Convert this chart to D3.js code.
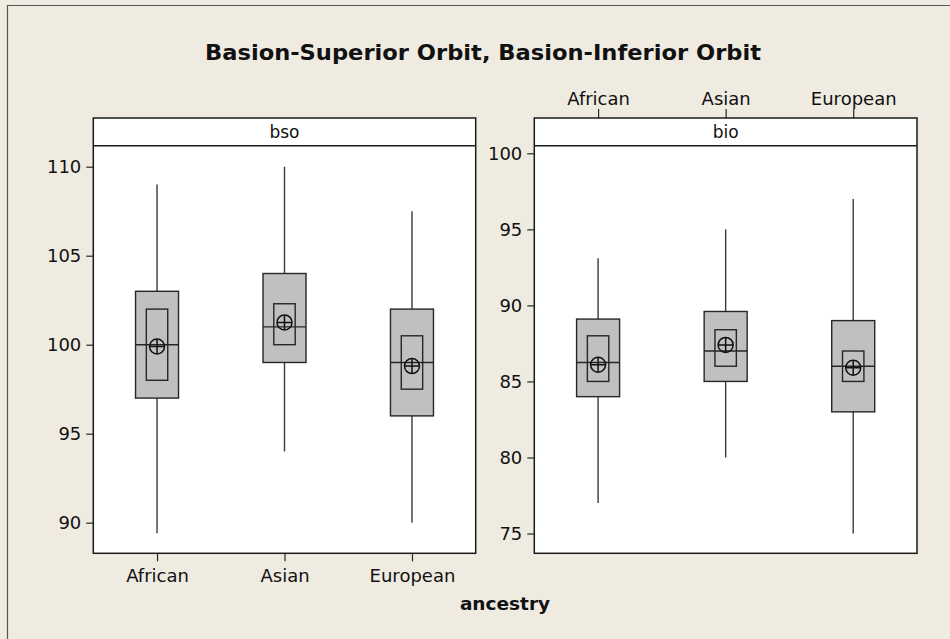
<!DOCTYPE html>
<html lang="en">
<head>
    <meta charset="UTF-8">
    <title>Basion-Superior Orbit, Basion-Inferior Orbit</title>
    <script src="https://d3js.org/d3.v7.min.js"></script>
    <style>
        body { margin: 0; padding: 0; background: #efebe1; }
        svg { display: block; }
        text { font-family: "DejaVu Sans", sans-serif; fill: #111; }
    </style>
</head>
<body>
<script>
    // categories
    var categories = ["African", "Asian", "European"];

    // bso panel
    var bsoLow    = [89.4, 94, 90];
    var bsoQ1     = [97, 99, 96];
    var bsoMedian = [100, 101, 99];
    var bsoQ3     = [103, 104, 102];
    var bsoHigh   = [109, 110, 107.5];
    var bsoCiLow  = [98, 100, 97.5];
    var bsoCiHigh = [102, 102.3, 100.5];
    var bsoMean   = [99.9, 101.25, 98.8];
    var bsoTicks  = [90, 95, 100, 105, 110];

    // bio panel
    var bioLow    = [77, 80, 75];
    var bioQ1     = [84, 85, 83];
    var bioMedian = [86.25, 87, 86];
    var bioQ3     = [89.1, 89.6, 89];
    var bioHigh   = [93.1, 95, 97];
    var bioCiLow  = [85, 86, 85];
    var bioCiHigh = [88, 88.4, 87];
    var bioMean   = [86.1, 87.4, 85.9];
    var bioTicks  = [75, 80, 85, 90, 95, 100];

    var width = 950, height = 639;

    var svg = d3.select("body").append("svg")
        .attr("width", width)
        .attr("height", height);

    // outer frame
    svg.append("rect").attr("width", width).attr("height", height).attr("fill", "#efebe1");
    svg.append("path")
        .attr("d", "M7.5," + height + "V5.5H" + width)
        .attr("fill", "none").attr("stroke", "#555").attr("stroke-width", 1.2);

    // title
    svg.append("text")
        .attr("x", 483).attr("y", 60)
        .attr("text-anchor", "middle")
        .attr("font-size", 22).attr("font-weight", "bold")
        .attr("textLength", 556).attr("lengthAdjust", "spacingAndGlyphs")
        .text("Basion-Superior Orbit, Basion-Inferior Orbit");

    var plotTop = 145.7, plotBottom = 553.3, headTop = 118;

    var panels = [
        { name: "bso", x0: 93.3, x1: 475.7, domain: [88.28, 111.18], ticks: bsoTicks,
          low: bsoLow, q1: bsoQ1, med: bsoMedian, q3: bsoQ3, high: bsoHigh,
          ciLow: bsoCiLow, ciHigh: bsoCiHigh, mean: bsoMean, catAxis: "bottom" },
        { name: "bio", x0: 534.3, x1: 917, domain: [73.7, 100.5], ticks: bioTicks,
          low: bioLow, q1: bioQ1, med: bioMedian, q3: bioQ3, high: bioHigh,
          ciLow: bioCiLow, ciHigh: bioCiHigh, mean: bioMean, catAxis: "top" }
    ];

    var line = "#262626";

    panels.forEach(function(p) {
        var x = d3.scalePoint().domain(categories).range([p.x0, p.x1]).padding(0.5);
        var y = d3.scaleLinear().domain(p.domain).range([plotBottom, plotTop]);
        var g = svg.append("g");

        // plot area + strip header
        g.append("rect")
            .attr("x", p.x0).attr("y", plotTop)
            .attr("width", p.x1 - p.x0).attr("height", plotBottom - plotTop)
            .attr("fill", "#fff");
        g.append("rect")
            .attr("x", p.x0).attr("y", headTop)
            .attr("width", p.x1 - p.x0).attr("height", plotTop - headTop)
            .attr("fill", "#fff");
        g.append("text")
            .attr("x", (p.x0 + p.x1) / 2).attr("y", 138)
            .attr("text-anchor", "middle").attr("font-size", 17)
            .text(p.name);

        // y axis
        var yAxis = g.append("g")
            .attr("transform", "translate(" + p.x0 + ",0)")
            .call(d3.axisLeft(y).tickValues(p.ticks).tickSize(7).tickPadding(5));
        yAxis.select(".domain").remove();
        yAxis.selectAll("line").attr("stroke", line).attr("stroke-width", 1.2);
        yAxis.selectAll("text").attr("font-size", 18).attr("font-family", "DejaVu Sans").attr("fill", "#111");

        // category axis
        var xAxis;
        if (p.catAxis === "bottom") {
            xAxis = g.append("g")
                .attr("transform", "translate(0," + plotBottom + ")")
                .call(d3.axisBottom(x).tickSize(8).tickPadding(8));
        } else {
            xAxis = g.append("g")
                .attr("transform", "translate(0," + headTop + ")")
                .call(d3.axisTop(x).tickSize(9).tickPadding(4));
        }
        xAxis.select(".domain").remove();
        xAxis.selectAll("line").attr("stroke", line).attr("stroke-width", 1.2);
        xAxis.selectAll("text").attr("font-size", 18).attr("font-family", "DejaVu Sans").attr("fill", "#111");

        var boxW = 43, ciW = 21.4;

        categories.forEach(function(c, i) {
            var cx = x(c);
            // whiskers
            g.append("line").attr("x1", cx).attr("x2", cx)
                .attr("y1", y(p.high[i])).attr("y2", y(p.q3[i]))
                .attr("stroke", "#3a3a3a").attr("stroke-width", 1.4);
            g.append("line").attr("x1", cx).attr("x2", cx)
                .attr("y1", y(p.q1[i])).attr("y2", y(p.low[i]))
                .attr("stroke", "#3a3a3a").attr("stroke-width", 1.4);
            // IQR box
            g.append("rect")
                .attr("x", cx - boxW / 2).attr("y", y(p.q3[i]))
                .attr("width", boxW).attr("height", y(p.q1[i]) - y(p.q3[i]))
                .attr("fill", "#c0c0c0").attr("stroke", line).attr("stroke-width", 1.4);
            // median CI box
            g.append("rect")
                .attr("x", cx - ciW / 2).attr("y", y(p.ciHigh[i]))
                .attr("width", ciW).attr("height", y(p.ciLow[i]) - y(p.ciHigh[i]))
                .attr("fill", "none").attr("stroke", line).attr("stroke-width", 1.4);
            // median
            g.append("line")
                .attr("x1", cx - boxW / 2).attr("x2", cx + boxW / 2)
                .attr("y1", y(p.med[i])).attr("y2", y(p.med[i]))
                .attr("stroke", line).attr("stroke-width", 1.4);
            // mean symbol
            var my = y(p.mean[i]), r = 7.5;
            g.append("circle").attr("cx", cx).attr("cy", my).attr("r", r)
                .attr("fill", "none").attr("stroke", "#111").attr("stroke-width", 1.5);
            g.append("path")
                .attr("d", "M" + (cx - r) + "," + my + "H" + (cx + r) + "M" + cx + "," + (my - r) + "V" + (my + r))
                .attr("stroke", "#111").attr("stroke-width", 1.5);
        });

        // frames on top
        g.append("rect")
            .attr("x", p.x0).attr("y", headTop)
            .attr("width", p.x1 - p.x0).attr("height", plotBottom - headTop)
            .attr("fill", "none").attr("stroke", "#1a1a1a").attr("stroke-width", 1.5);
        g.append("line")
            .attr("x1", p.x0).attr("x2", p.x1).attr("y1", plotTop).attr("y2", plotTop)
            .attr("stroke", "#1a1a1a").attr("stroke-width", 1.5);
    });

    // shared x label
    svg.append("text")
        .attr("x", 505).attr("y", 610)
        .attr("text-anchor", "middle")
        .attr("font-size", 18.5).attr("font-weight", "bold")
        .text("ancestry");
</script>
</body>
</html>
